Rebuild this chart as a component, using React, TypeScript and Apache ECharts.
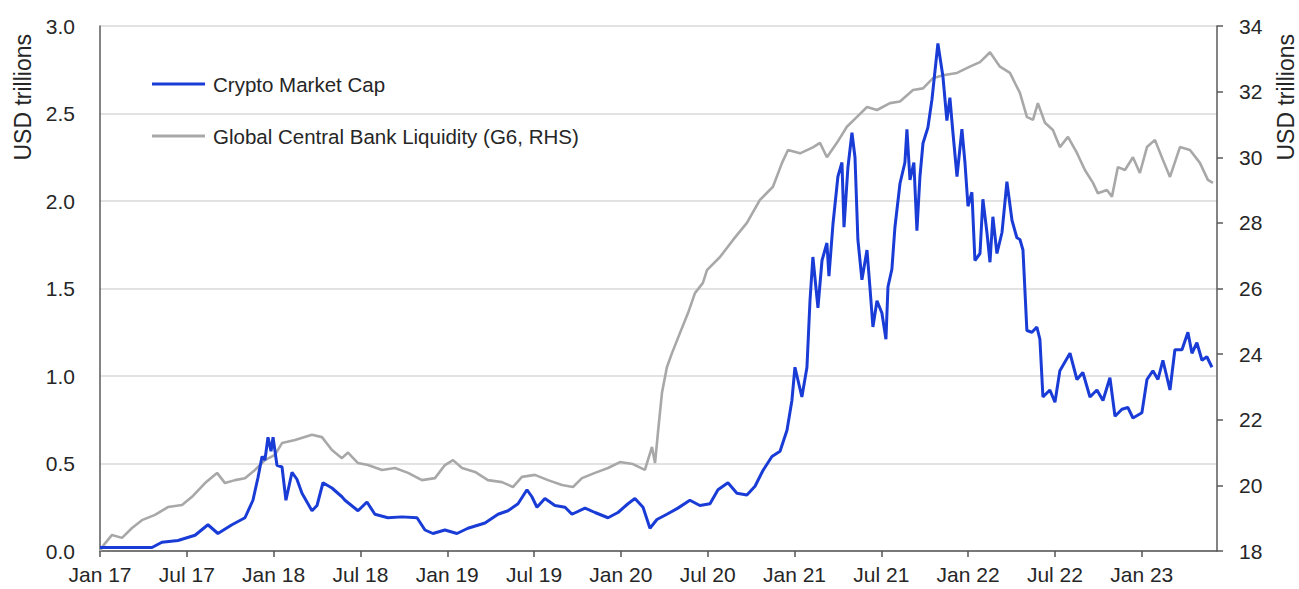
import React, { useEffect, useRef } from "react";
import * as echarts from "echarts";

// x positions are months since Jan 2017 (0 = Jan 17, 6 = Jul 17, ...)
const cryptoMonths = [
  0, 3.59, 4.28, 5.39, 6.57, 7.46, 8.15, 9.12, 10.02, 10.57, 10.92, 11.2, 11.4, 11.61, 11.82, 11.96,
  12.23, 12.58, 12.85, 13.27, 13.61, 13.96, 14.65, 15.0, 15.41, 16.03, 16.72, 16.93, 17.83, 18.45,
  19.0, 19.9, 20.87, 21.91, 22.46, 23.01, 23.84, 24.67, 25.43, 26.61, 27.51, 28.2, 28.89, 29.51,
  29.85, 30.2, 30.75, 31.44, 32.14, 32.62, 33.52, 34.21, 35.11, 35.8, 36.49, 36.97, 37.53, 38.01,
  38.49, 39.18, 39.94, 40.77, 41.46, 42.16, 42.71, 43.4, 44.02, 44.71, 45.27, 45.82, 46.44, 47.0,
  47.48, 47.82, 48.03, 48.51, 48.86, 49.07, 49.27, 49.62, 49.9, 50.24, 50.38, 50.66, 51.0, 51.28,
  51.42, 51.69, 51.97, 52.18, 52.38, 52.66, 53.01, 53.21, 53.42, 53.7, 54.04, 54.32, 54.46, 54.73,
  54.94, 55.29, 55.63, 55.77, 55.98, 56.25, 56.46, 56.67, 56.88, 57.22, 57.5, 57.91, 58.26, 58.53,
  58.74, 58.95, 59.23, 59.57, 59.78, 59.99, 60.26, 60.47, 60.82, 61.02, 61.3, 61.51, 61.71, 61.99,
  62.34, 62.68, 63.03, 63.37, 63.58, 63.79, 64.06, 64.41, 64.75, 64.96, 65.17, 65.65, 66.0, 66.34,
  67.04, 67.52, 67.93, 68.42, 68.9, 69.32, 69.8, 70.15, 70.63, 71.04, 71.39, 72.01, 72.36, 72.77,
  73.12, 73.46, 73.95, 74.29, 74.78, 75.19, 75.47, 75.81, 76.16, 76.5, 76.85,
];
const cryptoValues = [
  0.02, 0.02, 0.05, 0.06, 0.09, 0.15, 0.1, 0.15, 0.19, 0.29, 0.42, 0.54, 0.52, 0.65, 0.57, 0.65,
  0.49, 0.48, 0.29, 0.45, 0.41, 0.33, 0.23, 0.26, 0.39, 0.36, 0.31, 0.29, 0.23, 0.28,
  0.21, 0.19, 0.195, 0.19, 0.12, 0.1, 0.12, 0.1, 0.13, 0.16, 0.21, 0.23, 0.27, 0.35,
  0.31, 0.25, 0.3, 0.26, 0.25, 0.21, 0.245, 0.22, 0.19, 0.22, 0.27, 0.3, 0.25, 0.13,
  0.18, 0.21, 0.245, 0.29, 0.26, 0.27, 0.35, 0.39, 0.33, 0.32, 0.37, 0.46, 0.54, 0.57,
  0.69, 0.86, 1.05, 0.88, 1.05, 1.43, 1.68, 1.39, 1.66, 1.76, 1.57, 1.87, 2.14, 2.22,
  1.85, 2.19, 2.39, 2.25, 1.78, 1.55, 1.72, 1.51, 1.28, 1.43, 1.36, 1.21, 1.51, 1.61,
  1.85, 2.1, 2.22, 2.41, 2.12, 2.22, 1.83, 2.14, 2.33, 2.42, 2.58, 2.9, 2.71, 2.46,
  2.59, 2.39, 2.14, 2.41, 2.22, 1.97, 2.05, 1.66, 1.7, 2.01, 1.82, 1.65, 1.91, 1.7,
  1.82, 2.11, 1.89, 1.79, 1.78, 1.72, 1.26, 1.25, 1.28, 1.21, 0.88, 0.92, 0.85, 1.03,
  1.13, 0.98, 1.02, 0.88, 0.92, 0.86, 0.99, 0.77, 0.81, 0.82, 0.76, 0.79, 0.98, 1.03,
  0.98, 1.09, 0.92, 1.15, 1.15, 1.25, 1.13, 1.19, 1.09, 1.11, 1.05,
];

const liquidityMonths = [
  0, 0.14, 0.83, 1.52, 2.21, 2.9, 3.8, 4.7, 5.67, 6.36, 7.26, 8.09, 8.64, 9.33, 10.02, 10.71,
  11.4, 12.09, 12.58, 13.48, 14.65, 15.34, 16.03, 16.72, 17.14, 17.83, 18.52, 19.49, 20.39, 21.29,
  22.25, 23.15, 23.84, 24.4, 25.02, 25.92, 26.81, 27.78, 28.54, 29.16, 30.06, 30.96, 31.93, 32.69,
  33.31, 34.21, 35.11, 35.94, 36.83, 37.66, 38.15, 38.36, 38.56, 38.84, 39.18, 39.53, 40.08, 40.64,
  41.12, 41.67, 41.95, 42.85, 43.75, 44.71, 45.61, 46.51, 47.13, 47.55, 48.38, 49.27, 49.76, 50.24,
  50.93, 51.62, 52.32, 53.01, 53.7, 54.6, 55.29, 56.19, 56.88, 57.57, 58.26, 59.23, 60.12, 60.82,
  61.51, 62.2, 62.89, 63.58, 64.06, 64.48, 64.82, 65.31, 65.86, 66.34, 66.9, 67.52, 68.07, 68.63,
  68.97, 69.59, 69.94, 70.35, 70.84, 71.39, 71.87, 72.36, 72.91, 73.46, 73.95, 74.64, 75.33, 76.02,
  76.57, 76.92,
];
const liquidityValues = [
  18.0, 18.12, 18.49, 18.4, 18.7, 18.94, 19.1, 19.34, 19.4, 19.65, 20.07, 20.38, 20.07, 20.16, 20.22, 20.47,
  20.77, 20.93, 21.29, 21.38, 21.54, 21.47, 21.08, 20.83, 21.0, 20.68, 20.62, 20.47, 20.53, 20.38,
  20.16, 20.22, 20.62, 20.77, 20.53, 20.41, 20.16, 20.1, 19.95, 20.26, 20.32, 20.16, 20.01, 19.95,
  20.22, 20.38, 20.53, 20.71, 20.65, 20.47, 21.17, 20.68, 21.6, 22.82, 23.6, 24.03, 24.64, 25.25,
  25.86, 26.17, 26.56, 26.96, 27.48, 28.0, 28.7, 29.1, 29.82, 30.22, 30.12, 30.3, 30.44, 30.0,
  30.44, 30.93, 31.23, 31.53, 31.44, 31.65, 31.7, 32.05, 32.1, 32.41, 32.5, 32.57, 32.76, 32.9,
  33.2, 32.76, 32.57, 31.96, 31.23, 31.14, 31.65, 31.05, 30.83, 30.31, 30.62, 30.13, 29.61, 29.22,
  28.9, 29.0, 28.8, 29.7, 29.61, 30.0, 29.52, 30.31, 30.53, 29.92, 29.4, 30.31, 30.22, 29.83,
  29.31, 29.22,
];

const xTickLabels = [
  "Jan 17", "Jul 17", "Jan 18", "Jul 18", "Jan 19", "Jul 19", "Jan 20",
  "Jul 20", "Jan 21", "Jul 21", "Jan 22", "Jul 22", "Jan 23",
];

const seriesNames = ["Crypto Market Cap", "Global Central Bank Liquidity (G6, RHS)"];
const axisTitle = "USD trillions";

const FONT = "'Liberation Sans', Arial, sans-serif";
const BLUE = "#1a3cd6";
const GRAY = "#a8a8a8";
const TEXT = "#262626";

export default function App() {
  const ref = useRef<HTMLDivElement>(null);

  useEffect(() => {
    if (!ref.current) return;
    const chart = echarts.init(ref.current, undefined, { renderer: "svg" });

    const cryptoData = cryptoMonths.map((m, i) => [m, cryptoValues[i]]);
    const liquidityData = liquidityMonths.map((m, i) => [m, liquidityValues[i]]);

    chart.setOption({
      animation: false,
      backgroundColor: "#ffffff",
      textStyle: { fontFamily: FONT },
      grid: { left: 100, right: 82, top: 26, bottom: 38, containLabel: false },
      legend: {
        orient: "vertical",
        left: 152,
        top: 73,
        padding: 0,
        itemWidth: 53,
        itemHeight: 3,
        itemGap: 30,
        icon: "rect",
        data: [
          { name: seriesNames[0], itemStyle: { color: BLUE } },
          { name: seriesNames[1], itemStyle: { color: GRAY } },
        ],
        textStyle: {
          fontFamily: FONT,
          fontSize: 20.5,
          lineHeight: 22,
          color: TEXT,
          padding: [0, 0, 0, 3],
        },
      },
      xAxis: {
        type: "value",
        min: 0,
        max: 77.2,
        interval: 6,
        axisLine: { show: true, lineStyle: { color: "#555555", width: 1.5 } },
        axisTick: { show: true, length: 6, lineStyle: { color: "#555555", width: 1.5 } },
        splitLine: { show: false },
        axisLabel: {
          margin: 13,
          fontSize: 21,
          color: TEXT,
          fontFamily: FONT,
          showMaxLabel: false,
          formatter: (v: number) => {
            const idx = Math.round(v / 6);
            return Math.abs(v - idx * 6) < 1e-6 && xTickLabels[idx] ? xTickLabels[idx] : "";
          },
        },
      },
      yAxis: [
        {
          type: "value",
          min: 0,
          max: 3,
          interval: 0.5,
          position: "left",
          axisLine: { show: true, lineStyle: { color: "#5a5a5a", width: 1.5 } },
          axisTick: { show: false },
          splitLine: { show: true, lineStyle: { color: "#d9d9d9", width: 1.5 } },
          axisLabel: {
            margin: 25,
            fontSize: 21,
            color: TEXT,
            fontFamily: FONT,
            formatter: (v: number) => v.toFixed(1),
          },
        },
        {
          type: "value",
          min: 18,
          max: 34,
          interval: 2,
          position: "right",
          axisLine: { show: true, lineStyle: { color: "#5a5a5a", width: 1.5 } },
          axisTick: { show: true, length: 6, lineStyle: { color: "#5a5a5a", width: 1.5 } },
          splitLine: { show: false },
          axisLabel: {
            margin: 22,
            fontSize: 21,
            color: TEXT,
            fontFamily: FONT,
          },
        },
      ],
      graphic: [
        {
          type: "text",
          x: 23,
          y: 34,
          rotation: Math.PI / 2,
          style: {
            text: axisTitle,
            fontSize: 23,
            fontFamily: FONT,
            fill: TEXT,
            textAlign: "right",
            textVerticalAlign: "middle",
          },
        },
        {
          type: "text",
          x: 1286,
          y: 34,
          rotation: Math.PI / 2,
          style: {
            text: axisTitle,
            fontSize: 23,
            fontFamily: FONT,
            fill: TEXT,
            textAlign: "right",
            textVerticalAlign: "middle",
          },
        },
      ],
      series: [
        {
          name: seriesNames[1],
          type: "line",
          yAxisIndex: 1,
          data: liquidityData,
          showSymbol: false,
          lineStyle: { color: GRAY, width: 2.6 },
          itemStyle: { color: GRAY },
          z: 2,
        },
        {
          name: seriesNames[0],
          type: "line",
          yAxisIndex: 0,
          data: cryptoData,
          showSymbol: false,
          lineStyle: { color: BLUE, width: 3 },
          itemStyle: { color: BLUE },
          z: 3,
        },
      ],
    });

    return () => chart.dispose();
  }, []);

  return (
    <div
      ref={ref}
      style={{ position: "absolute", left: 0, top: 0, width: 1299, height: 589 }}
    />
  );
}
